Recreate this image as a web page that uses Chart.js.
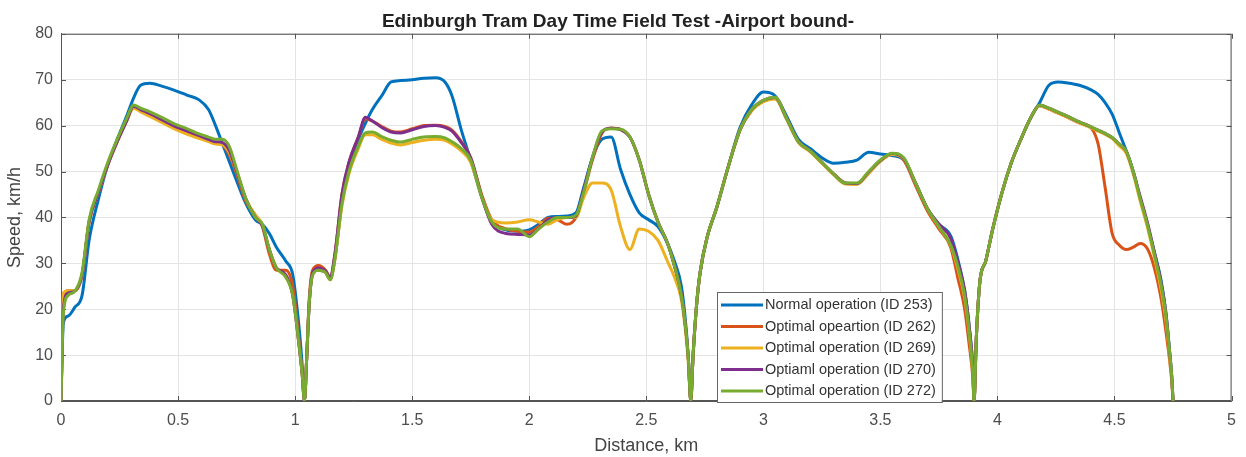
<!DOCTYPE html>
<html>
<head>
<meta charset="utf-8">
<script src="https://cdn.jsdelivr.net/npm/chart.js@4/dist/chart.umd.min.js"></script>
<style>
  html, body { margin: 0; padding: 0; background: #fff; }
  .chart-wrap { width: 1246px; height: 457px; position: relative; }
</style>
</head>
<body>
<div class="chart-wrap"><canvas id="myChart"></canvas></div>
<script>
// distance along the line, km (shared by every run)
const distanceKm = [
  0, 0.01, 0.03, 0.06, 0.09, 0.12, 0.16, 0.2, 0.24, 0.28, 0.31, 0.34, 0.38, 0.43, 0.48, 0.54, 0.59, 0.63, 0.66, 0.69, 0.72, 0.75, 0.79, 0.83, 0.86, 0.89, 0.92, 0.96, 0.99, 1.015, 1.03, 1.04,
  1.05, 1.06, 1.075, 1.1, 1.13, 1.15, 1.17, 1.2, 1.23, 1.27, 1.3, 1.33, 1.37, 1.41, 1.45, 1.5, 1.55, 1.6, 1.64, 1.67, 1.71, 1.75, 1.8, 1.84, 1.9, 1.95, 2.0, 2.04, 2.08, 2.12, 2.16, 2.2, 2.23, 2.27, 2.31, 2.35, 2.39, 2.43, 2.47, 2.51, 2.55, 2.59, 2.62, 2.65, 2.67, 2.68, 2.69,
  2.7, 2.715, 2.73, 2.76, 2.8, 2.85, 2.9, 2.95, 3.0, 3.05, 3.1, 3.15, 3.2, 3.25, 3.3, 3.35, 3.4, 3.45, 3.5, 3.55, 3.6, 3.65, 3.7, 3.75, 3.8, 3.83, 3.86, 3.88, 3.895, 3.9,
  3.91, 3.925, 3.95, 3.98, 4.02, 4.06, 4.1, 4.14, 4.18, 4.22, 4.26, 4.3, 4.35, 4.4, 4.43, 4.46, 4.49, 4.52, 4.55, 4.58, 4.61, 4.64, 4.67, 4.7, 4.72, 4.735, 4.745, 4.75
];

// speed, km/h
const speed253 = [
  0, 17, 18.5, 20.5, 23, 35, 44, 51.5, 57, 62, 66, 68.8, 69.2, 68.6, 67.8, 66.6, 65.6, 63.5, 60, 56, 52, 48, 43, 39.5, 38.5, 36.5, 33.5, 30.5, 27.5, 17, 8, 0,
  10, 21, 27.5, 28.5, 28, 26.5, 31, 43.5, 51, 57, 60.5, 63.5, 66.5, 69.5, 69.8, 70, 70.3, 70.4, 69.5, 66.5, 59, 52.5, 44, 39, 37.3, 37, 37.3, 38.5, 40, 40.2, 40.3, 41, 46, 53, 57, 57.5, 50.5, 45, 41, 39.5, 38, 34.4, 30.5, 25, 16, 9, 0,
  10, 21, 28, 35.7, 42, 51, 59.5, 64.5, 67.3, 66.5, 62, 57, 55, 53, 51.8, 52, 52.5, 54.2, 53.8, 53.5, 52.5, 47.5, 42, 38.5, 36, 31, 24, 16, 7, 0,
  14, 26, 30.5, 37.5, 45.5, 52, 57, 61.5, 65, 68.8, 69.5, 69.3, 68.8, 67.8, 66.8, 65, 62.5, 58.5, 54.5, 50, 44, 38.5, 32.5, 26, 19, 11, 5, 0
];
const speed262 = [
  0, 22.5, 24, 24, 27.5, 39, 45.5, 51.5, 56.5, 61, 64, 63.3, 62.3, 61, 59.7, 58.4, 57.4, 56.7, 56.2, 55.8, 53.5, 49.5, 43.5, 40.5, 38, 32, 28.5, 28.5, 25, 14, 6, 0,
  10, 22, 28.5, 29.5, 28.5, 27, 32, 45, 52, 57.5, 61.5, 61, 59.8, 58.8, 58.6, 59.3, 60, 60.1, 59.8, 59, 56.5, 53, 44.5, 39.5, 37.5, 37, 36.8, 38, 39.8, 39.5, 38.5, 40, 45, 52.5, 58.3, 59.5, 59.2, 57.5, 52.5, 45, 39, 34.5, 29.5, 23, 15, 9, 0,
  10, 21, 28, 35.7, 42, 51, 59, 63.3, 65.3, 66, 61.5, 56.5, 54.5, 52, 49.5, 47.5, 47.3, 49.7, 52.3, 53.8, 52.5, 47, 41.5, 37.5, 33.5, 27, 20, 12, 5, 0,
  14, 26, 30.5, 37.5, 45.5, 52, 57, 61.5, 64.3, 63.6, 62.7, 61.8, 60.6, 59.5, 56, 46.5, 36.5, 34, 33, 33.5, 34.3, 33.2, 29, 22, 15, 9, 4, 0
];
const speed269 = [
  0, 23.5, 24, 24, 27.5, 39, 45.5, 51.5, 56.5, 61, 63.8, 63, 62, 60.7, 59.4, 58.1, 57.2, 56.5, 56, 55.8, 54, 50, 44, 40.5, 38.5, 33, 29, 27, 23, 13, 6, 0,
  10, 21, 27.5, 28.5, 28, 26.4, 31, 42.5, 49.5, 55, 58, 58, 57, 56.2, 55.8, 56.3, 56.8, 57, 56.8, 56, 54.5, 52, 44, 39.5, 38.8, 39, 39.5, 39, 38.5, 39.5, 40, 40, 44, 47.5, 47.5, 46, 38, 33, 37.5, 37, 35, 30.5, 27, 22, 14, 8, 0,
  10, 21, 28, 35.7, 42, 51, 59, 63.2, 65.2, 65.8, 61.3, 56.3, 54.3, 51.8, 49.3, 47.3, 47.2, 49.6, 52.2, 53.7, 52.7, 47.5, 42, 38, 34, 29, 22.5, 14.5, 6, 0,
  14, 26, 30.5, 37.5, 45.5, 52, 57, 61.5, 64.3, 63.6, 62.7, 61.8, 60.6, 59.5, 58.8, 58.1, 57.2, 55.6, 54, 49.5, 43.5, 38, 31.5, 24, 17.5, 10, 4.5, 0
];
const speed270 = [
  0, 20, 23.5, 24, 27.5, 39, 45.5, 51.5, 56.5, 61, 64.2, 63.5, 62.6, 61.3, 60, 58.8, 57.8, 57, 56.5, 56.3, 54.5, 50, 44, 40, 38.2, 33, 29, 27.5, 23, 13, 6, 0,
  10, 21, 28, 29, 28.3, 26.8, 32, 45, 52, 57.5, 61.8, 61, 59.6, 58.6, 58.4, 59.1, 59.8, 60, 59.6, 58.8, 56.3, 53, 44, 38.5, 36.5, 36.3, 36.2, 37.5, 39.5, 40, 40, 40.3, 45.5, 53, 58.6, 59.4, 59.1, 57.5, 52.5, 45, 39, 34.5, 29.5, 23, 15, 9, 0,
  10, 21, 28, 35.7, 42, 51, 59, 63.5, 65.5, 66.1, 61.5, 56.5, 54.5, 52, 49.5, 47.5, 47.4, 49.9, 52.4, 53.9, 52.8, 47.5, 42, 38.5, 35.5, 30.5, 24, 16, 7, 0,
  14, 26, 30.5, 37.5, 45.5, 52, 57, 61.5, 64.5, 63.8, 62.9, 62, 60.8, 59.7, 59, 58.3, 57.4, 56, 54.5, 50, 44.5, 39, 32.5, 25.5, 19, 11, 5, 0
];
const speed272 = [
  0, 19, 23, 24, 28, 39.5, 46, 52, 57, 61.5, 64.5, 63.8, 63, 61.8, 60.5, 59.3, 58.2, 57.5, 57, 57, 55.3, 50.5, 44, 40, 38.5, 33, 29, 27, 23, 13, 6, 0,
  10, 21, 27.5, 28.5, 28, 26.4, 31, 43, 50, 55.5, 58.4, 58.6, 57.6, 56.8, 56.4, 57, 57.5, 57.6, 57.3, 56.5, 55, 52.5, 44, 39, 37.5, 37.5, 35.8, 37.5, 39, 40, 40, 40.5, 45, 53, 58.8, 59.3, 59.2, 57.5, 52.5, 45, 39, 34.5, 29.5, 23, 15, 9, 0,
  10, 21, 28, 35.7, 42, 51, 59, 63.5, 65.5, 66.2, 61.5, 56.5, 54.5, 52, 49.5, 47.5, 47.5, 50, 52.5, 54, 53, 47.5, 42, 38, 34, 29.5, 23, 15, 6, 0,
  14, 26, 30.5, 37.5, 45.5, 52, 57, 61.5, 64.5, 63.8, 62.9, 62, 60.8, 59.7, 59, 58.3, 57.4, 56, 54.5, 50, 44, 38.5, 32, 25, 18.5, 11, 5, 0
];

const seriesLabels = [
  "Normal operation (ID 253)",
  "Optimal opeartion (ID 262)",
  "Optimal operation (ID 269)",
  "Optiaml operation (ID 270)",
  "Optimal operation (ID 272)"
];
const seriesColors = ["#0072BD", "#D95319", "#EDB120", "#7E2F8E", "#77AC30"];
const xTicks = [0, 0.5, 1, 1.5, 2, 2.5, 3, 3.5, 4, 4.5, 5];
const yTicks = [0, 10, 20, 30, 40, 50, 60, 70, 80];

const fontFamily = "'Liberation Sans', Arial, sans-serif";
const axisColor = "#555";

const allSpeeds = [speed253, speed262, speed269, speed270, speed272];

const datasets = allSpeeds.map((speeds, i) => ({
  label: seriesLabels[i],
  data: distanceKm.map((d, j) => ({ x: d, y: speeds[j] })),
  borderColor: seriesColors[i],
  backgroundColor: seriesColors[i],
  borderWidth: 3,
  pointRadius: 0,
  cubicInterpolationMode: "monotone",
  order: allSpeeds.length - i // green on top
}));

// box round the plot + inward ticks, matlab style
const axesBox = {
  id: "axesBox",
  beforeDatasetsDraw(chart) {
    const { ctx, chartArea: a, scales } = chart;
    ctx.save();
    ctx.strokeStyle = axisColor;
    ctx.lineWidth = 1;
    ctx.strokeRect(a.left + 0.5, a.top + 0.5, a.right - a.left - 1, a.bottom - a.top - 1);
    const len = 5;
    ctx.beginPath();
    xTicks.forEach((v) => {
      const px = Math.round(scales.x.getPixelForValue(v)) + 0.5;
      ctx.moveTo(px, a.bottom); ctx.lineTo(px, a.bottom - len);
      ctx.moveTo(px, a.top); ctx.lineTo(px, a.top + len);
    });
    yTicks.forEach((v) => {
      const py = Math.round(scales.y.getPixelForValue(v)) + 0.5;
      ctx.moveTo(a.left, py); ctx.lineTo(a.left + len, py);
      ctx.moveTo(a.right, py); ctx.lineTo(a.right - len, py);
    });
    ctx.stroke();
    ctx.restore();
  }
};

// legend box sitting in the lower middle of the plot
const legendBox = {
  id: "legendBox",
  afterDraw(chart) {
    const { ctx, chartArea: a } = chart;
    const left = 717, top = 292, rowH = 21.5;
    ctx.save();
    ctx.font = "14.5px " + fontFamily;
    let maxW = 0;
    chart.data.datasets.forEach((ds) => {
      maxW = Math.max(maxW, ctx.measureText(ds.label).width);
    });
    const width = 48 + maxW + 6;
    const bottom = a.bottom + 1;
    ctx.fillStyle = "#fff";
    ctx.fillRect(left, top, width, bottom - top);
    ctx.strokeStyle = "#666";
    ctx.lineWidth = 1;
    ctx.strokeRect(left + 0.5, top + 0.5, width, bottom - top);
    chart.data.datasets.forEach((ds, i) => {
      const y = top + 13 + i * rowH;
      ctx.strokeStyle = ds.borderColor;
      ctx.lineWidth = 3;
      ctx.beginPath();
      ctx.moveTo(left + 4, y);
      ctx.lineTo(left + 46, y);
      ctx.stroke();
      ctx.fillStyle = "#333";
      ctx.textBaseline = "middle";
      ctx.fillText(ds.label, left + 48, y);
    });
    ctx.restore();
  }
};

const ctx = document.getElementById("myChart");

new Chart(ctx, {
  type: "line",
  data: { datasets: datasets },
  options: {
    responsive: true,
    maintainAspectRatio: false,
    animation: false,
    layout: { padding: { top: 0, right: 10, bottom: 0, left: 0 } },
    plugins: {
      legend: { display: false },
      tooltip: { enabled: false },
      title: {
        display: true,
        text: "Edinburgh Tram Day Time Field Test -Airport bound-",
        color: "#222",
        font: { family: fontFamily, size: 19, weight: "bold" },
        padding: { top: 10, bottom: 1 }
      }
    },
    scales: {
      x: {
        type: "linear",
        min: 0,
        max: 5,
        afterFit: (scale) => { scale.height = 56; },
        afterBuildTicks: (scale) => { scale.ticks = xTicks.map((v) => ({ value: v })); },
        ticks: {
          color: "#4d4d4d",
          padding: 10,
          maxRotation: 0,
          font: { family: fontFamily, size: 16 },
          callback: (v) => String(v)
        },
        grid: { color: "#e4e4e4", drawTicks: false },
        border: { display: true, color: axisColor, width: 1 },
        title: {
          display: true,
          text: "Distance, km",
          color: "#444",
          font: { family: fontFamily, size: 18 },
          padding: { top: 3, bottom: 0 }
        }
      },
      y: {
        min: 0,
        max: 80,
        afterFit: (scale) => { scale.width = 61; },
        afterBuildTicks: (scale) => { scale.ticks = yTicks.map((v) => ({ value: v })); },
        ticks: {
          color: "#4d4d4d",
          padding: 8,
          font: { family: fontFamily, size: 16 },
          callback: (v) => String(v)
        },
        grid: { color: "#e4e4e4", drawTicks: false },
        border: { display: true, color: axisColor, width: 1 },
        title: {
          display: true,
          text: "Speed, km/h",
          color: "#444",
          font: { family: fontFamily, size: 18 },
          padding: { top: 4, bottom: 0 }
        }
      }
    }
  },
  plugins: [axesBox, legendBox]
});
</script>
</body>
</html>
